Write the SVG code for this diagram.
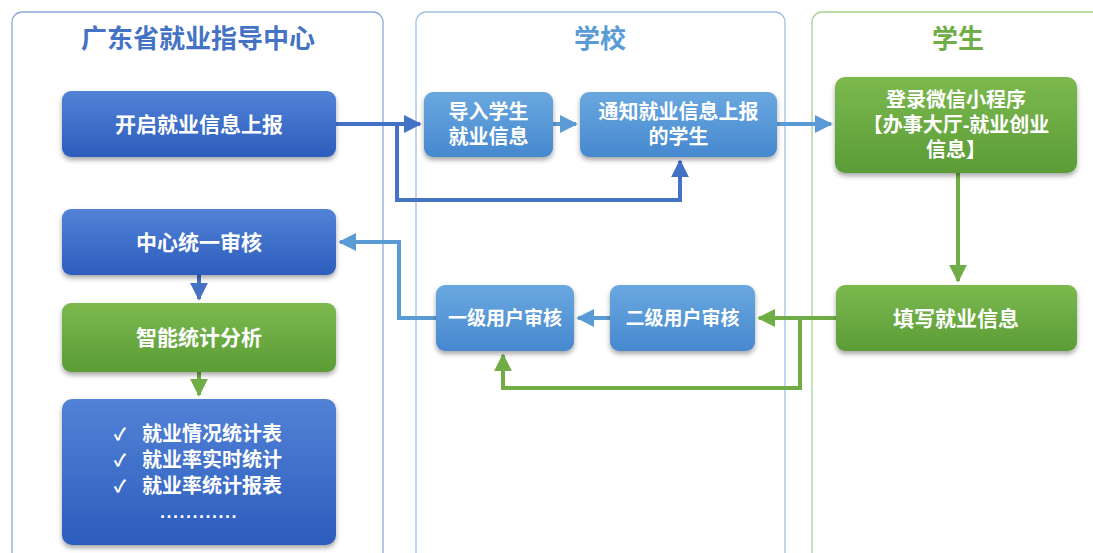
<svg xmlns="http://www.w3.org/2000/svg" width="1093" height="553" viewBox="0 0 1093 553">
<defs>
<linearGradient id="gDark" x1="0" y1="0" x2="0" y2="1"><stop offset="0" stop-color="#5282d6"/><stop offset="1" stop-color="#2c5dbd"/></linearGradient>
<linearGradient id="gLight" x1="0" y1="0" x2="0" y2="1"><stop offset="0" stop-color="#6aa8e0"/><stop offset="1" stop-color="#4688cf"/></linearGradient>
<linearGradient id="gGreen" x1="0" y1="0" x2="0" y2="1"><stop offset="0" stop-color="#7cb94f"/><stop offset="1" stop-color="#5b9c36"/></linearGradient>
<filter id="sh" x="-10%" y="-20%" width="120%" height="150%"><feDropShadow dx="0" dy="3" stdDeviation="2.5" flood-color="#000" flood-opacity="0.35"/></filter>
<marker id="aDark" viewBox="0 0 10 10" refX="9" refY="5" markerWidth="4.5" markerHeight="4.5" orient="auto" markerUnits="strokeWidth"><path d="M0,0 L10,5 L0,10 z" fill="#4472c4"/></marker>
<marker id="aLight" viewBox="0 0 10 10" refX="9" refY="5" markerWidth="4.5" markerHeight="4.5" orient="auto" markerUnits="strokeWidth"><path d="M0,0 L10,5 L0,10 z" fill="#5b9bd5"/></marker>
<marker id="aGreen" viewBox="0 0 10 10" refX="9" refY="5" markerWidth="4.5" markerHeight="4.5" orient="auto" markerUnits="strokeWidth"><path d="M0,0 L10,5 L0,10 z" fill="#70ad47"/></marker>
</defs>
<style>
.t{font-family:"Liberation Sans","Noto Sans CJK SC",sans-serif;font-weight:bold;fill:#fff;text-anchor:middle;dominant-baseline:central}
.title{font-family:"Noto Sans CJK SC","Liberation Sans",sans-serif;font-weight:bold;font-size:26px;text-anchor:middle;dominant-baseline:central}
.dark{fill:url(#gDark);filter:url(#sh)}
.light{fill:url(#gLight);filter:url(#sh)}
.green{fill:url(#gGreen);filter:url(#sh)}
.cd{fill:none;stroke:#4472c4;stroke-width:4}
.cl{fill:none;stroke:#5b9bd5;stroke-width:4}
.cg{fill:none;stroke:#70ad47;stroke-width:4}
</style>
<rect width="1093" height="553" fill="#fff"/>
<g id="panels">
<rect x="12" y="12" width="371" height="560" rx="10" fill="none" stroke="#8eaadb" stroke-width="1.3"/>
<rect x="416" y="12" width="369" height="560" rx="10" fill="none" stroke="#9dc3e6" stroke-width="1.3"/>
<rect x="812" y="12" width="300" height="560" rx="10" fill="none" stroke="#a9d18e" stroke-width="1.3"/>
<text class="title" x="198" y="36" fill="#4472c4">广东省就业指导中心</text>
<text class="title" x="600" y="36" fill="#5b9bd5">学校</text>
<text class="title" x="958" y="36" fill="#70ad47">学生</text>
</g>
<g id="connectors">
<path class="cd" d="M336,124 H420" marker-end="url(#aDark)"/>
<path class="cd" d="M397,124 V200 H680 V161" marker-end="url(#aDark)"/>
<path class="cl" d="M553,124 H576" marker-end="url(#aLight)"/>
<path class="cl" d="M777,124 H831" marker-end="url(#aLight)"/>
<path class="cg" d="M958,173 V281" marker-end="url(#aGreen)"/>
<path class="cg" d="M836,318 H759" marker-end="url(#aGreen)"/>
<path class="cg" d="M800,318 V388 H503 V355" marker-end="url(#aGreen)"/>
<path class="cl" d="M610,318 H578" marker-end="url(#aLight)"/>
<path class="cl" d="M436,318 H399 V242 H340" marker-end="url(#aLight)"/>
<path class="cd" d="M199,275 V299" marker-end="url(#aDark)"/>
<path class="cg" d="M199,372 V395" marker-end="url(#aGreen)"/>
</g>
<g id="n-open"><rect class="dark" x="62" y="91" width="274" height="66" rx="9"/><text class="t" x="199" y="124" font-size="21">开启就业信息上报</text></g>
<g id="n-import"><rect class="light" x="424" y="92" width="129" height="65" rx="9"/><text class="t" x="488.5" y="112" font-size="20">导入学生</text><text class="t" x="488.5" y="137" font-size="20">就业信息</text></g>
<g id="n-notify"><rect class="light" x="580" y="92" width="197" height="65" rx="9"/><text class="t" x="678.5" y="112" font-size="20">通知就业信息上报</text><text class="t" x="678.5" y="137" font-size="20">的学生</text></g>
<g id="n-login"><rect class="green" x="835" y="77" width="242" height="96" rx="10"/><text class="t" x="956" y="100" font-size="20">登录微信小程序</text><text class="t" x="956" y="125" font-size="20">【办事大厅-就业创业</text><text class="t" x="956" y="150" font-size="20">信息】</text></g>
<g id="n-fill"><rect class="green" x="836" y="285" width="241" height="66" rx="9"/><text class="t" x="956" y="318" font-size="21">填写就业信息</text></g>
<g id="n-level2"><rect class="light" x="610" y="285" width="145" height="66" rx="9"/><text class="t" x="682.5" y="318" font-size="19">二级用户审核</text></g>
<g id="n-level1"><rect class="light" x="436" y="285" width="138" height="66" rx="9"/><text class="t" x="505" y="318" font-size="19">一级用户审核</text></g>
<g id="n-center"><rect class="dark" x="62" y="209" width="274" height="66" rx="9"/><text class="t" x="199" y="242" font-size="21">中心统一审核</text></g>
<g id="n-stat"><rect class="green" x="62" y="303" width="274" height="69" rx="9"/><text class="t" x="199" y="337" font-size="21">智能统计分析</text></g>
<g id="n-list"><rect class="dark" x="62" y="399" width="274" height="146" rx="10"/>
<text class="t" x="120" y="434" font-size="17" font-weight="normal">✓</text><text class="t" x="142" y="434" font-size="20" style="text-anchor:start">就业情况统计表</text>
<text class="t" x="120" y="460" font-size="17" font-weight="normal">✓</text><text class="t" x="142" y="460" font-size="20" style="text-anchor:start">就业率实时统计</text>
<text class="t" x="120" y="486" font-size="17" font-weight="normal">✓</text><text class="t" x="142" y="486" font-size="20" style="text-anchor:start">就业率统计报表</text>
<text class="t" x="199" y="512" font-size="18" letter-spacing="1.5">............</text>
</g>
</svg>
